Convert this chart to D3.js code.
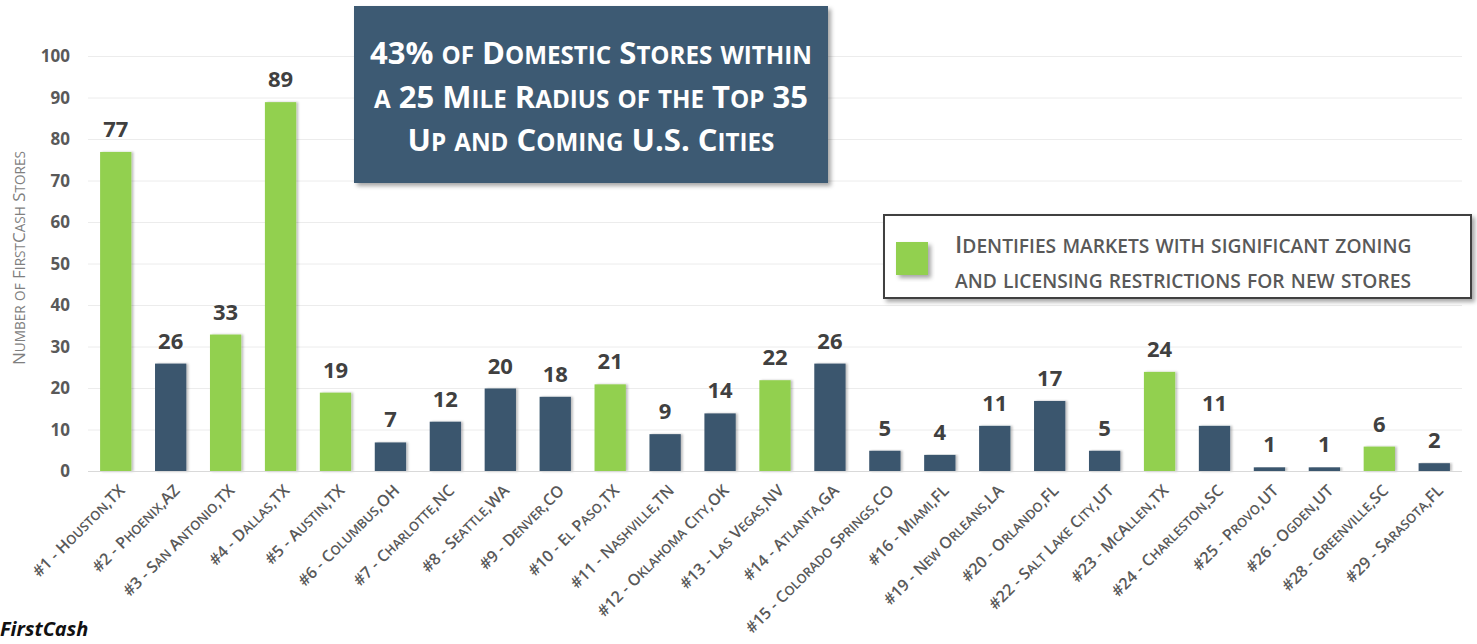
<!DOCTYPE html>
<html>
<head>
<meta charset="utf-8">
<script src="https://cdn.jsdelivr.net/npm/d3@7"></script>
<style>
  body { margin: 0; background: #fff; }
  svg { display: block; }
  text { font-family: "Open Sans", Lato, sans-serif; }
</style>
</head>
<body>
<div id="chart"></div>
<script>
// City labels, store counts and restriction flags (green bars)
const cities = [
  "#1 - Houston,TX", "#2 - Phoenix,AZ", "#3 - San Antonio,TX", "#4 - Dallas,TX",
  "#5 - Austin,TX", "#6 - Columbus,OH", "#7 - Charlotte,NC", "#8 - Seattle,WA",
  "#9 - Denver,CO", "#10 - El Paso,TX", "#11 - Nashville,TN", "#12 - Oklahoma City,OK",
  "#13 - Las Vegas,NV", "#14 - Atlanta,GA", "#15 - Colorado Springs,CO", "#16 - Miami,FL",
  "#19 - New Orleans,LA", "#20 - Orlando,FL", "#22 - Salt Lake City,UT", "#23 - McAllen,TX",
  "#24 - Charleston,SC", "#25 - Provo,UT", "#26 - Ogden,UT", "#28 - Greenville,SC",
  "#29 - Sarasota,FL"
];
const stores = [77, 26, 33, 89, 19, 7, 12, 20, 18, 21, 9, 14, 22, 26, 5, 4, 11, 17, 5, 24, 11, 1, 1, 6, 2];
const restricted = [true, false, true, true, true, false, false, false, false, true, false, false,
  true, false, false, false, false, false, false, true, false, false, false, true, false];
const yTicks = [0, 10, 20, 30, 40, 50, 60, 70, 80, 90, 100];

const titleLines = ["43% of Domestic Stores within", "a 25 Mile Radius of the Top 35", "Up and Coming U.S. Cities"];
const legendLines = ["Identifies markets with significant zoning", "and licensing restrictions for new stores"];

const width = 1477, height = 644;
const green = "#92d050", navy = "#3b566e", gray = "#595959";

const data = cities.map((c, i) => ({ city: c, value: stores[i], green: restricted[i] }));

//Small caps by hand: lowercase runs become smaller capitals
function smallCaps(sel, str, size, ratio) {
    sel.attr("font-size", size);
    (str.match(/[a-z]+|[^a-z]+/g) || []).forEach(run => {
        const lower = /[a-z]/.test(run[0]);
        sel.append("tspan")
            .attr("font-size", lower ? size * ratio : size)
            .text(lower ? run.toUpperCase() : run);
    });
}

const svg = d3.select("#chart").append("svg")
    .attr("width", width)
    .attr("height", height);

const defs = svg.append("defs");
const shadow = defs.append("filter").attr("id", "shadow")
    .attr("x", "-20%").attr("y", "-20%").attr("width", "140%").attr("height", "140%");
shadow.append("feDropShadow")
    .attr("dx", 3).attr("dy", 3).attr("stdDeviation", 2)
    .attr("flood-color", "#000").attr("flood-opacity", 0.35);
const barShadow = defs.append("filter").attr("id", "barShadow")
    .attr("x", "-20%").attr("y", "-5%").attr("width", "140%").attr("height", "110%");
barShadow.append("feDropShadow")
    .attr("dx", 2).attr("dy", 0).attr("stdDeviation", 1.2)
    .attr("flood-color", "#000").attr("flood-opacity", 0.25);

//Scales
const x = d3.scaleBand()
    .domain(cities)
    .range([88, 1462])
    .paddingInner(0.43)
    .paddingOuter(0.22);

const y = d3.scaleLinear()
    .domain([0, 100])
    .range([471.5, 56.5]);

//Gridlines
svg.append("g")
    .selectAll("line")
    .data(yTicks.slice(1))
    .enter().append("line")
    .attr("x1", 88).attr("x2", 1462)
    .attr("y1", d => y(d)).attr("y2", d => y(d))
    .attr("stroke", "#ececec")
    .attr("stroke-width", 1);

//Y axis
const yAxis = svg.append("g")
    .attr("transform", "translate(70,0)")
    .call(d3.axisLeft(y).tickValues(yTicks).tickSize(0).tickPadding(0));
yAxis.select(".domain").remove();
yAxis.selectAll("text")
    .attr("font-family", "'Open Sans', sans-serif")
    .attr("font-size", 17)
    .attr("font-weight", "bold")
    .attr("fill", gray);

svg.append("text")
    .attr("transform", `translate(25,258) rotate(-90)`)
    .attr("text-anchor", "middle")
    .attr("fill", "#7f7f7f")
    .call(sel => smallCaps(sel, "Number of FirstCash Stores", 17, 0.8));

//Bars
svg.append("g")
    .selectAll("rect")
    .data(data)
    .enter().append("rect")
    .attr("x", d => x(d.city))
    .attr("y", d => y(d.value))
    .attr("width", x.bandwidth())
    .attr("height", d => y(0) - y(d.value))
    .attr("fill", d => d.green ? green : navy)
    .attr("filter", "url(#barShadow)");

//Baseline
svg.append("line")
    .attr("x1", 88).attr("x2", 1462)
    .attr("y1", y(0)).attr("y2", y(0))
    .attr("stroke", "#d9d9d9");

//Value labels
svg.append("g")
    .selectAll("text")
    .data(data)
    .enter().append("text")
    .attr("x", d => x(d.city) + x.bandwidth() / 2)
    .attr("y", d => y(d.value) - 15)
    .attr("text-anchor", "middle")
    .attr("font-size", 22)
    .attr("font-weight", "bold")
    .attr("fill", "#404040")
    .text(d => d.value);

//X labels
svg.append("g")
    .selectAll("text")
    .data(data)
    .enter().append("text")
    .attr("transform", d => `translate(${x(d.city) + x.bandwidth() / 2 + 10},${y(0) + 20}) rotate(-45)`)
    .attr("text-anchor", "end")
    .attr("font-weight", 600)
    .attr("fill", gray)
    .each(function (d) { smallCaps(d3.select(this), d.city, 16, 0.8); });

//Title box
const title = svg.append("g");
title.append("rect")
    .attr("x", 354).attr("y", 6)
    .attr("width", 474).attr("height", 177)
    .attr("fill", "#3d5a73")
    .attr("filter", "url(#shadow)");
title.selectAll("text")
    .data(titleLines)
    .enter().append("text")
    .attr("x", 591)
    .attr("y", (d, i) => 64 + i * 43.5)
    .attr("text-anchor", "middle")
    .attr("font-weight", "bold")
    .attr("fill", "#fff")
    .each(function (d) { smallCaps(d3.select(this), d, 31, 0.78); });

//Legend box
const legend = svg.append("g");
legend.append("rect")
    .attr("x", 884).attr("y", 215)
    .attr("width", 587).attr("height", 83)
    .attr("fill", "#fff")
    .attr("stroke", "#404040")
    .attr("stroke-width", 2)
    .attr("filter", "url(#shadow)");
legend.append("rect")
    .attr("x", 896).attr("y", 242)
    .attr("width", 32).attr("height", 33)
    .attr("fill", green)
    .attr("filter", "url(#shadow)");
legend.selectAll("text.leg")
    .data(legendLines)
    .enter().append("text")
    .attr("class", "leg")
    .attr("x", 955)
    .attr("y", (d, i) => 253 + i * 35)
    .attr("font-weight", 600)
    .attr("fill", gray)
    .each(function (d) { smallCaps(d3.select(this), d, 24, 0.8); });

//Logo
svg.append("text")
    .attr("x", 0)
    .attr("y", 636)
    .attr("font-family", "'DejaVu Sans', sans-serif")
    .attr("font-size", 20)
    .attr("font-weight", "bold")
    .attr("font-style", "italic")
    .attr("fill", "#111")
    .text("FirstCash");
</script>
</body>
</html>
